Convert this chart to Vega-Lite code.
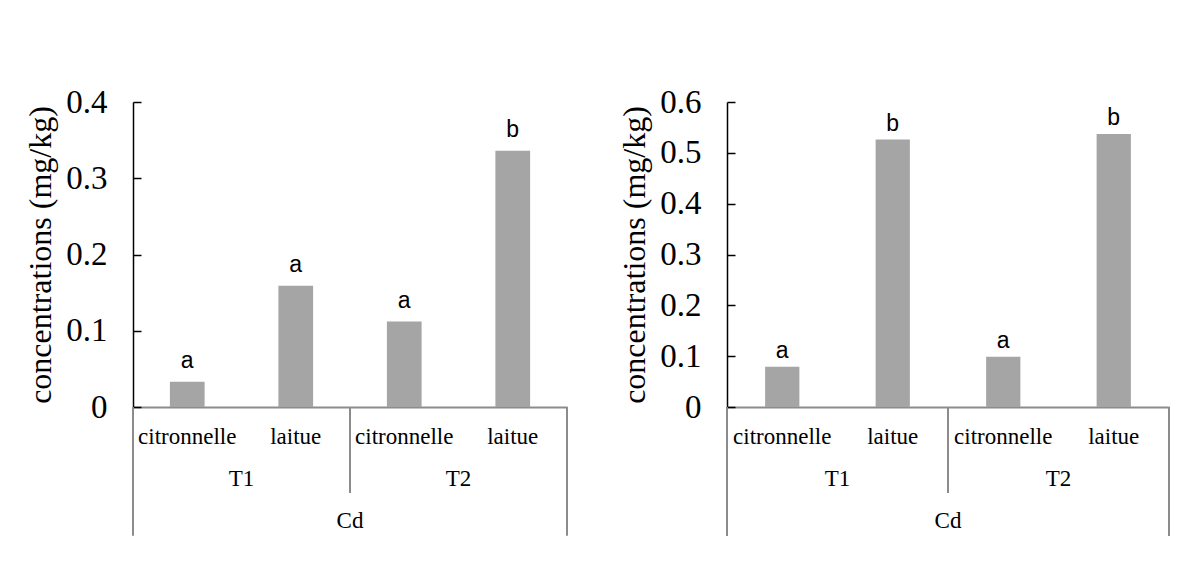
{
  "$schema": "https://vega.github.io/schema/vega-lite/v6.json",
  "background": "white",
  "padding": {"left": 24, "top": 86, "right": 5, "bottom": 5},
  "config": {
    "view": {"stroke": null},
    "concat": {"spacing": 50}
  },
  "datasets": {
    "left": [
      {"element": "Cd", "treatment": "T1", "plant": "citronnelle", "key": "T1 citronnelle", "value": 0.033, "letter": "a"},
      {"element": "Cd", "treatment": "T1", "plant": "laitue", "key": "T1 laitue", "value": 0.159, "letter": "a"},
      {"element": "Cd", "treatment": "T2", "plant": "citronnelle", "key": "T2 citronnelle", "value": 0.112, "letter": "a"},
      {"element": "Cd", "treatment": "T2", "plant": "laitue", "key": "T2 laitue", "value": 0.336, "letter": "b"}
    ],
    "right": [
      {"element": "Cd", "treatment": "T1", "plant": "citronnelle", "key": "T1 citronnelle", "value": 0.079, "letter": "a"},
      {"element": "Cd", "treatment": "T1", "plant": "laitue", "key": "T1 laitue", "value": 0.526, "letter": "b"},
      {"element": "Cd", "treatment": "T2", "plant": "citronnelle", "key": "T2 citronnelle", "value": 0.099, "letter": "a"},
      {"element": "Cd", "treatment": "T2", "plant": "laitue", "key": "T2 laitue", "value": 0.537, "letter": "b"}
    ]
  },
  "hconcat": [
    {
      "width": 434,
      "height": 305,
      "data": {"name": "left"},
      "encoding": {
        "x": {
          "field": "key", "type": "nominal", "sort": null,
          "scale": {"paddingInner": 0, "paddingOuter": 0},
          "axis": {"title": null, "labelExpr": "split(datum.value, ' ')[1]", "labelAngle": 0, "ticks": false,
                   "domainColor": "#8c8c8c", "domainWidth": 2, "labelFont": "Liberation Serif", "labelFontSize": 23,
                   "labelColor": "black", "labelPadding": 18}
        }
      },
      "layer": [
        {
          "mark": {"type": "bar", "color": "#a5a5a5", "width": {"band": 0.32}},
          "encoding": {
            "y": {
              "field": "value", "type": "quantitative",
              "scale": {"domain": [0, 0.4], "nice": false},
              "axis": {"title": "concentrations (mg/kg)", "titleFont": "Liberation Serif", "titleFontSize": 32,
                       "titleFontWeight": "normal", "titleColor": "black", "titlePadding": 8,
                       "values": [0, 0.1, 0.2, 0.3, 0.4], "format": "~g", "grid": false,
                       "domainColor": "black", "domainWidth": 1.5, "tickColor": "black", "tickSize": -8, "tickWidth": 1.5,
                       "labelFont": "Liberation Serif", "labelFontSize": 33, "labelColor": "black", "labelPadding": 34}
            }
          }
        },
        {
          "mark": {"type": "text", "baseline": "bottom", "dy": -9, "font": "Liberation Sans", "fontSize": 23, "color": "black"},
          "encoding": {
            "y": {"field": "value", "type": "quantitative"},
            "text": {"field": "letter"}
          }
        },
        {
          "transform": [{"filter": "datum.plant === 'citronnelle'"}],
          "mark": {"type": "text", "baseline": "middle", "font": "Liberation Serif", "fontSize": 23, "color": "black"},
          "encoding": {
            "x": {"field": "key", "type": "nominal", "sort": null, "bandPosition": 1},
            "y": {"datum": -0.0944},
            "text": {"field": "treatment"}
          }
        },
        {
          "transform": [{"filter": "datum.key === 'T1 laitue'"}],
          "mark": {"type": "text", "baseline": "middle", "font": "Liberation Serif", "fontSize": 23, "color": "black"},
          "encoding": {
            "x": {"field": "key", "type": "nominal", "sort": null, "bandPosition": 1},
            "y": {"datum": -0.1495},
            "text": {"field": "element"}
          }
        },
        {
          "transform": [{"filter": "datum.key === 'T1 laitue'"}],
          "mark": {"type": "rule", "color": "#8c8c8c", "strokeWidth": 2},
          "encoding": {
            "x": {"field": "key", "type": "nominal", "sort": null, "bandPosition": 1},
            "y": {"datum": 0},
            "y2": {"datum": -0.1128}
          }
        },
        {
          "transform": [{"filter": "datum.key === 'T1 citronnelle'"}],
          "mark": {"type": "rule", "color": "#8c8c8c", "strokeWidth": 2},
          "encoding": {
            "x": {"field": "key", "type": "nominal", "sort": null, "bandPosition": 0},
            "y": {"datum": 0},
            "y2": {"datum": -0.169}
          }
        },
        {
          "transform": [{"filter": "datum.key === 'T2 laitue'"}],
          "mark": {"type": "rule", "color": "#8c8c8c", "strokeWidth": 2},
          "encoding": {
            "x": {"field": "key", "type": "nominal", "sort": null, "bandPosition": 1},
            "y": {"datum": 0},
            "y2": {"datum": -0.169}
          }
        }
      ]
    },
    {
      "width": 442,
      "height": 305,
      "data": {"name": "right"},
      "encoding": {
        "x": {
          "field": "key", "type": "nominal", "sort": null,
          "scale": {"paddingInner": 0, "paddingOuter": 0},
          "axis": {"title": null, "labelExpr": "split(datum.value, ' ')[1]", "labelAngle": 0, "ticks": false,
                   "domainColor": "#8c8c8c", "domainWidth": 2, "labelFont": "Liberation Serif", "labelFontSize": 23,
                   "labelColor": "black", "labelPadding": 18}
        }
      },
      "layer": [
        {
          "mark": {"type": "bar", "color": "#a5a5a5", "width": {"band": 0.31}},
          "encoding": {
            "y": {
              "field": "value", "type": "quantitative",
              "scale": {"domain": [0, 0.6], "nice": false},
              "axis": {"title": "concentrations (mg/kg)", "titleFont": "Liberation Serif", "titleFontSize": 32,
                       "titleFontWeight": "normal", "titleColor": "black", "titlePadding": 8,
                       "values": [0, 0.1, 0.2, 0.3, 0.4, 0.5, 0.6], "format": "~g", "grid": false,
                       "domainColor": "black", "domainWidth": 1.5, "tickColor": "black", "tickSize": -8, "tickWidth": 1.5,
                       "labelFont": "Liberation Serif", "labelFontSize": 33, "labelColor": "black", "labelPadding": 34}
            }
          }
        },
        {
          "mark": {"type": "text", "baseline": "bottom", "dy": -4, "font": "Liberation Sans", "fontSize": 23, "color": "black"},
          "encoding": {
            "y": {"field": "value", "type": "quantitative"},
            "text": {"field": "letter"}
          }
        },
        {
          "transform": [{"filter": "datum.plant === 'citronnelle'"}],
          "mark": {"type": "text", "baseline": "middle", "font": "Liberation Serif", "fontSize": 23, "color": "black"},
          "encoding": {
            "x": {"field": "key", "type": "nominal", "sort": null, "bandPosition": 1},
            "y": {"datum": -0.1417},
            "text": {"field": "treatment"}
          }
        },
        {
          "transform": [{"filter": "datum.key === 'T1 laitue'"}],
          "mark": {"type": "text", "baseline": "middle", "font": "Liberation Serif", "fontSize": 23, "color": "black"},
          "encoding": {
            "x": {"field": "key", "type": "nominal", "sort": null, "bandPosition": 1},
            "y": {"datum": -0.2243},
            "text": {"field": "element"}
          }
        },
        {
          "transform": [{"filter": "datum.key === 'T1 laitue'"}],
          "mark": {"type": "rule", "color": "#8c8c8c", "strokeWidth": 2},
          "encoding": {
            "x": {"field": "key", "type": "nominal", "sort": null, "bandPosition": 1},
            "y": {"datum": 0},
            "y2": {"datum": -0.1692}
          }
        },
        {
          "transform": [{"filter": "datum.key === 'T1 citronnelle'"}],
          "mark": {"type": "rule", "color": "#8c8c8c", "strokeWidth": 2},
          "encoding": {
            "x": {"field": "key", "type": "nominal", "sort": null, "bandPosition": 0},
            "y": {"datum": 0},
            "y2": {"datum": -0.2538}
          }
        },
        {
          "transform": [{"filter": "datum.key === 'T2 laitue'"}],
          "mark": {"type": "rule", "color": "#8c8c8c", "strokeWidth": 2},
          "encoding": {
            "x": {"field": "key", "type": "nominal", "sort": null, "bandPosition": 1},
            "y": {"datum": 0},
            "y2": {"datum": -0.2538}
          }
        }
      ]
    }
  ]
}
